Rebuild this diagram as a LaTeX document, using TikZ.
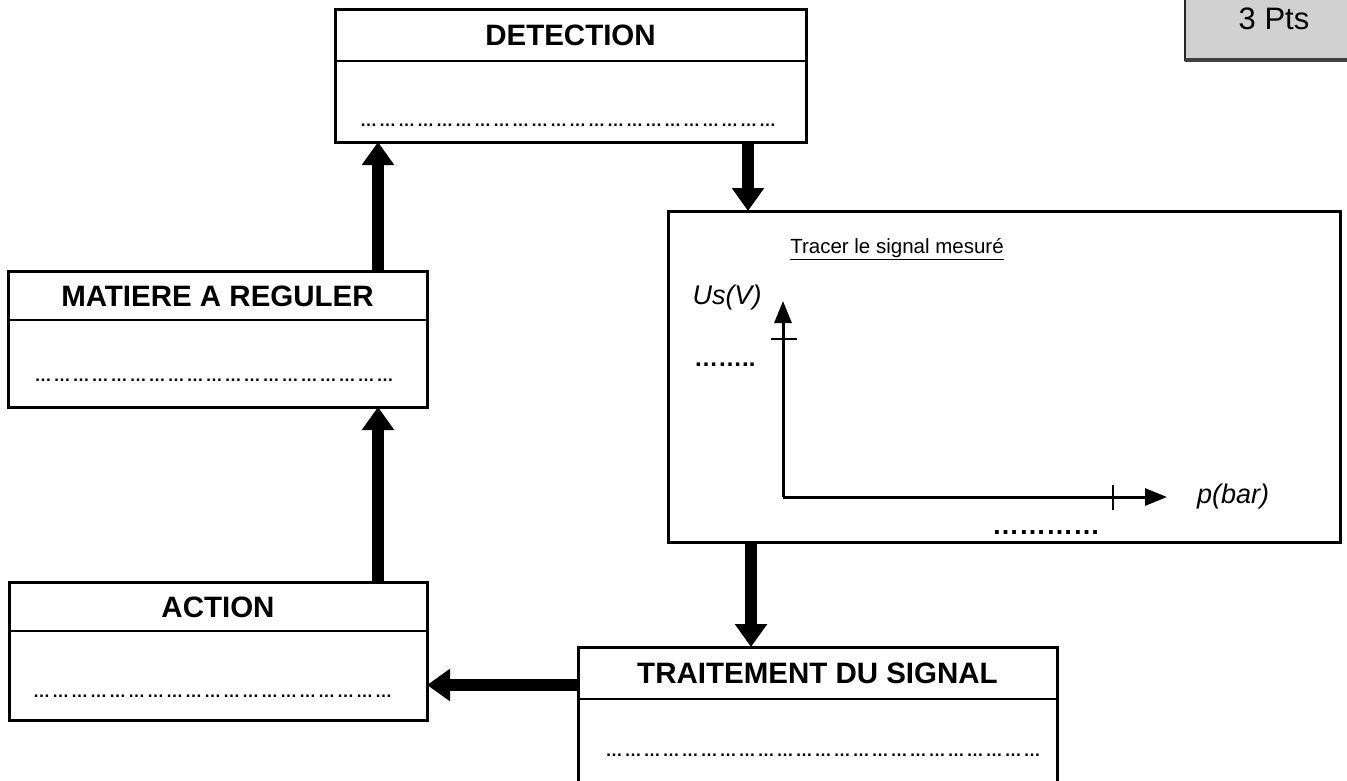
\documentclass[tikz,border=0pt]{standalone}
\usepackage{fontspec}
\setmainfont{Liberation Sans}
\usetikzlibrary{arrows.meta,calc}

% groups of three dots used as fill-in lines
\newcommand\dotgroup{{\fontsize{17}{17}\selectfont\bfseries …}\kern2pt}
\newcommand\dotline[1]{\hbox to #1{\cleaders\hbox{\dotgroup}\hfill}}

\begin{document}
\begin{tikzpicture}[x=1pt,y=-1pt,
  boxframe/.style={draw=black, line width=3pt, inner sep=0pt, outer sep=0pt, fill=white},
  divider/.style={draw=black, line width=2.4pt},
  boxtitle/.style={font=\fontsize{29.5}{32}\selectfont\bfseries, inner sep=0pt},
  fillin/.style={inner sep=0pt, anchor=base west},
  conn/.style={line width=12pt, -{Triangle[length=23pt 0, width=31pt 0]}},
  axis/.style={line width=3pt, -{Triangle[length=22pt 0, width=17pt 0]}},
  tick/.style={line width=2pt},
  axlabel/.style={font=\fontsize{27}{30}\selectfont\itshape, inner sep=0pt}]

\clip (0,0) rectangle (1347,780);
\fill[white] (0,0) rectangle (1347,780);

% score box in the corner
\fill[black!18] (1185,-10) rectangle (1360,61);
\draw[line width=1.8pt, black!85] (1185,-10) -- (1185,61);
\draw[line width=3.5pt, black!75] (1185,60) -- (1360,60);
\node[font=\fontsize{31}{34}\selectfont, inner sep=0pt] (pts) at (1274,19) {3 Pts};

% DETECTION
\node[boxframe, minimum width=471pt, minimum height=133pt, anchor=north west] (det) at (335,9) {};
\draw[divider] ([yshift=-52pt]det.north west) -- ([yshift=-52pt]det.north east);
\node[boxtitle] (detT) at ([yshift=-26pt]det.north) {DETECTION};
\node[fillin] (detD) at (358,126) {\dotline{422pt}};

% MATIERE A REGULER
\node[boxframe, minimum width=419pt, minimum height=136pt, anchor=north west] (mat) at (8,271) {};
\draw[divider] ([yshift=-49pt]mat.north west) -- ([yshift=-49pt]mat.north east);
\node[boxtitle] (matT) at ([yshift=-25pt]mat.north) {MATIERE A REGULER};
\node[fillin] (matD) at (30,381) {\dotline{370pt}};

% ACTION
\node[boxframe, minimum width=418pt, minimum height=138pt, anchor=north west] (act) at (9,582) {};
\draw[divider] ([yshift=-49pt]act.north west) -- ([yshift=-49pt]act.north east);
\node[boxtitle] (actT) at ([yshift=-25pt]act.north) {ACTION};
\node[fillin] (actD) at (28,697) {\dotline{371pt}};

% TRAITEMENT DU SIGNAL
\node[boxframe, minimum width=479pt, minimum height=160pt, anchor=north west] (tra) at (578,647) {};
\draw[divider] ([yshift=-52pt]tra.north west) -- ([yshift=-52pt]tra.north east);
\node[boxtitle] (traT) at ([yshift=-26pt]tra.north) {TRAITEMENT DU SIGNAL};
\node[fillin] (traD) at (600,756) {\dotline{448pt}};

% measured signal sketch
\node[boxframe, minimum width=672pt, minimum height=331pt, anchor=north west] (graph) at (668,211) {};
\node[font=\fontsize{20.5}{22}\selectfont, inner sep=0pt] (trc) at (897,249) {\underline{Tracer le signal mesuré}};
\coordinate (O) at (783,497);
\coordinate (ytip) at (783,301);
\coordinate (xtip) at (1167,497);
\draw[axis] (O) -- (ytip);
\draw[axis] (O) -- (xtip);
\draw[tick] (771,338.5) -- (797,338.5);
\draw[tick] (1113,485) -- (1113,510);
\node[axlabel] (us) at (727,298) {Us(V)};
\node[axlabel] (pb) at (1233,497) {p(bar)};
\node[fillin, font=\fontsize{24}{24}\selectfont\bfseries] (ud) at (694,366) {……..};
\node[fillin, font=\fontsize{27}{27}\selectfont\bfseries] (pd) at (992,534) {…………};

% signal flow
\draw[conn] ([xshift=160.5pt]mat.north) coordinate (a1) -- (a1 |- det.south);
\draw[conn] ([xshift=177.5pt]det.south) coordinate (a2) -- (a2 |- graph.north);
\draw[conn] ([xshift=-253pt]graph.south) coordinate (a3) -- (a3 |- tra.north);
\draw[conn] ([yshift=42pt]tra.west) coordinate (a4) -- (a4 -| act.east);
\draw[conn] ([xshift=160pt]act.north) coordinate (a5) -- (a5 |- mat.south);
\end{tikzpicture}
\end{document}
